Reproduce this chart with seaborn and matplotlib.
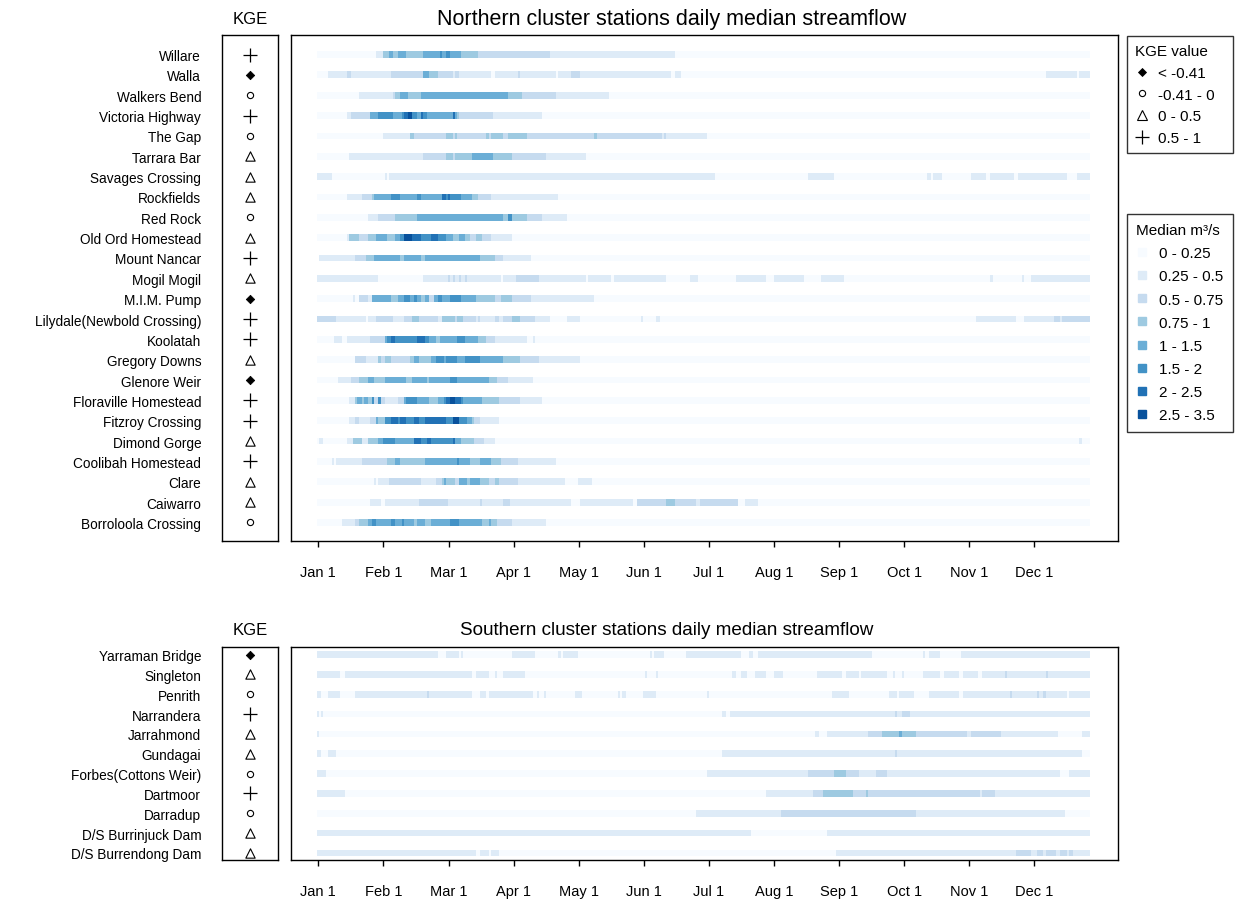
import numpy as np
import matplotlib
matplotlib.use("Agg")
import matplotlib.pyplot as plt
from matplotlib.colors import ListedColormap
from matplotlib.lines import Line2D
import seaborn as sns

# ---------------- data ----------------
N_DAYS = 365
MONTH_LABELS = ["Jan 1", "Feb 1", "Mar 1", "Apr 1", "May 1", "Jun 1",
                "Jul 1", "Aug 1", "Sep 1", "Oct 1", "Nov 1", "Dec 1"]
FLOW_BINS = ["0 - 0.25", "0.25 - 0.5", "0.5 - 0.75", "0.75 - 1",
             "1 - 1.5", "1.5 - 2", "2 - 2.5", "2.5 - 3.5"]
FLOW_COLORS = ["#f7fbff", "#deebf7", "#c6dbef", "#9ecae1",
               "#6baed6", "#4292c6", "#2171b5", "#08519c"]
KGE_BINS = ["< -0.41", "-0.41 - 0", "0 - 0.5", "0.5 - 1"]

NORTH_STATIONS = ["Willare", "Walla", "Walkers Bend", "Victoria Highway", "The Gap",
                  "Tarrara Bar", "Savages Crossing", "Rockfields", "Red Rock",
                  "Old Ord Homestead", "Mount Nancar", "Mogil Mogil", "M.I.M. Pump",
                  "Lilydale(Newbold Crossing)", "Koolatah", "Gregory Downs",
                  "Glenore Weir", "Floraville Homestead", "Fitzroy Crossing",
                  "Dimond Gorge", "Coolibah Homestead", "Clare", "Caiwarro",
                  "Borroloola Crossing"]
NORTH_KGE = ["0.5 - 1", "< -0.41", "-0.41 - 0", "0.5 - 1", "-0.41 - 0",
             "0 - 0.5", "0 - 0.5", "0 - 0.5", "-0.41 - 0", "0 - 0.5",
             "0.5 - 1", "0 - 0.5", "< -0.41", "0.5 - 1", "0.5 - 1",
             "0 - 0.5", "< -0.41", "0.5 - 1", "0.5 - 1", "0 - 0.5",
             "0.5 - 1", "0 - 0.5", "0 - 0.5", "-0.41 - 0"]

SOUTH_STATIONS = ["Yarraman Bridge", "Singleton", "Penrith", "Narrandera", "Jarrahmond",
                  "Gundagai", "Forbes(Cottons Weir)", "Dartmoor", "Darradup",
                  "D/S Burrinjuck Dam", "D/S Burrendong Dam"]
SOUTH_KGE = ["< -0.41", "0 - 0.5", "-0.41 - 0", "0.5 - 1", "0 - 0.5", "0 - 0.5",
             "-0.41 - 0", "0.5 - 1", "-0.41 - 0", "0 - 0.5", "0 - 0.5"]

# daily median flow class per station, run-length coded as (first day of run, class index);
# None = no data for that run
WILLARE = [(0, 0), (28, 1), (31, 3), (34, 4), (36, 3), (38, 4), (42, 3), (50, 4), (58, 5),
           (59, 4), (61, 5), (63, 4), (68, 3), (76, 2), (110, 1), (169, 0)]
WALLA = [(0, 0), (5, 1), (14, 2), (16, 1), (35, 2), (50, 4), (53, 3), (57, 2), (64, 1),
         (65, 2), (67, 1), (82, 0), (84, 1), (95, 2), (96, 1), (113, 0), (114, 1), (120, 2),
         (124, 1), (167, 0), (169, 1), (172, 0), (344, 1), (359, 0), (360, 1)]
WALKERS_BEND = [(0, 0), (20, 1), (36, 2), (37, 3), (39, 4), (43, 3), (49, 4), (90, 3),
                (97, 2), (113, 1), (138, 0)]
VICTORIA_HIGHWAY = [(0, 0), (14, 1), (16, 2), (25, 4), (29, 5), (36, 4), (40, 5), (41, 6),
                    (43, 7), (45, 5), (47, 4), (49, 6), (50, 5), (52, 4), (64, 6), (65, 4),
                    (66, 3), (67, 2), (83, 1), (106, 0)]
THE_GAP = [(0, 0), (31, 1), (44, 3), (46, 2), (61, 3), (64, 2), (65, 3), (66, 2), (80, 3),
           (81, 2), (82, 3), (88, 2), (90, 3), (99, 2), (131, 3), (132, 2), (163, 1),
           (164, 2), (165, 1), (184, 0)]
TARRARA_BAR = [(0, 0), (15, 1), (50, 2), (61, 3), (64, 2), (65, 3), (73, 4), (83, 3),
               (92, 2), (108, 1), (127, 0)]
SAVAGES_CROSSING = [(0, 1), (7, 0), (32, 1), (33, 0), (34, 1), (188, 0), (232, 1), (244, 0),
                    (288, 1), (290, 0), (291, 1), (295, 0), (309, 1), (316, 0), (318, 1),
                    (329, 0), (331, 1), (354, 0), (359, 1)]
ROCKFIELDS = [(0, 0), (14, 1), (21, 2), (26, 3), (27, 4), (35, 5), (39, 4), (47, 5), (49, 4),
              (59, 6), (61, 5), (62, 6), (63, 5), (68, 4), (73, 3), (76, 2), (82, 1), (114, 0)]
RED_ROCK = [(0, 0), (24, 1), (29, 2), (37, 3), (47, 4), (88, 3), (90, 5), (92, 3), (99, 2),
            (106, 1), (118, 0)]
OLD_ORD = [(0, 0), (14, 1), (15, 3), (20, 2), (24, 3), (28, 4), (33, 3), (37, 4), (39, 5),
           (41, 7), (45, 6), (49, 5), (54, 6), (57, 5), (61, 4), (64, 3), (67, 4), (70, 3),
           (72, 2), (75, 3), (78, 2), (82, 1), (92, 0)]
MOUNT_NANCAR = [(0, None), (1, 1), (18, 2), (23, 3), (27, 4), (39, 3), (41, 4), (49, 3),
                (51, 4), (77, 3), (84, 2), (88, 1), (101, 0)]
MOGIL_MOGIL = [(0, 1), (29, 0), (50, 1), (62, 2), (63, 1), (64, 2), (65, 1), (67, 2), (68, 1),
               (70, 2), (71, 1), (87, 0), (88, 1), (94, 2), (105, 1), (127, 0), (128, 1),
               (139, 0), (140, 1), (165, 0), (176, 1), (180, 0), (198, 1), (212, 0), (216, 1),
               (230, 0), (238, 1), (249, 0), (318, 1), (319, 0), (333, 1), (334, 0), (337, 1)]
MIM_PUMP = [(0, 0), (17, 1), (18, 0), (20, 2), (24, 1), (26, 4), (35, 3), (38, 4), (41, 5),
            (44, 4), (46, 5), (47, 4), (49, 3), (51, 4), (53, 2), (55, 4), (57, 5), (59, 4),
            (63, 5), (68, 4), (75, 3), (84, 2), (87, 3), (92, 2), (101, 1), (131, 0)]
LILYDALE = [(0, 2), (9, 1), (23, 0), (24, 1), (28, 2), (36, 1), (41, 2), (45, 3), (48, 2),
            (57, 1), (59, 3), (65, 2), (66, 3), (69, 2), (75, 1), (76, 2), (77, 1), (84, 2),
            (86, 1), (88, 2), (92, 3), (96, 2), (103, 1), (110, 0), (118, 1), (124, 0),
            (153, 1), (154, 0), (160, 1), (162, 0), (311, 1), (330, 0), (334, 1), (348, 2),
            (351, 1), (352, 2)]
KOOLATAH = [(0, 0), (8, 1), (12, 0), (14, 1), (25, 2), (32, 4), (33, 5), (35, 6), (37, 5),
            (47, 6), (51, 5), (53, 4), (56, 3), (58, 4), (66, 5), (70, 4), (76, 3), (80, 2),
            (84, 1), (99, 0), (102, 1), (103, 0)]
GREGORY_DOWNS = [(0, 0), (18, 2), (23, 1), (29, 3), (30, 2), (32, 3), (35, 2), (44, 3),
                 (46, 4), (48, 3), (54, 4), (56, 5), (60, 4), (61, 5), (66, 4), (70, 5),
                 (77, 4), (88, 3), (96, 2), (105, 1), (124, 0)]
GLENORE_WEIR = [(0, 0), (10, 1), (16, 2), (20, 3), (24, 4), (27, 3), (32, 4), (42, 3),
                (45, 4), (52, 3), (53, 4), (63, 5), (66, 4), (81, 3), (85, 2), (90, 1), (102, 0)]
FLORAVILLE = [(0, 0), (15, 1), (18, 3), (19, 4), (21, 3), (22, 4), (24, 3), (26, 5), (27, 2),
              (29, 5), (30, 2), (32, 1), (38, 2), (41, 4), (42, 5), (47, 4), (53, 3), (57, 4),
              (60, 5), (61, 6), (63, 7), (65, 6), (68, 5), (69, 4), (78, 3), (86, 2), (96, 1),
              (106, 0)]
FITZROY_CROSSING = [(0, 0), (15, 1), (18, 2), (20, 1), (25, 2), (28, 4), (29, 3), (32, 5),
                    (35, 6), (38, 5), (39, 6), (42, 5), (46, 6), (48, 5), (51, 6), (61, 5),
                    (64, 7), (67, 5), (71, 4), (73, 3), (74, 2), (77, 1), (86, 0)]
DIMOND_GORGE = [(0, 0), (1, 1), (3, 0), (14, 1), (17, 3), (21, 1), (24, 3), (29, 4), (31, 5),
                (37, 4), (46, 6), (49, 5), (52, 6), (54, 5), (64, 6), (65, 4), (68, 3),
                (74, 2), (79, 1), (84, 0), (360, 1), (361, 0)]
COOLIBAH = [(0, 0), (7, 1), (8, 0), (9, 1), (21, 2), (33, 3), (37, 4), (39, 3), (51, 4),
            (66, 5), (67, 4), (72, 3), (77, 4), (82, 3), (87, 2), (95, 1), (113, 0)]
CLARE = [(0, 0), (27, 1), (28, 0), (29, 1), (34, 2), (49, 1), (56, 2), (59, 3), (60, 4),
         (61, 3), (65, 2), (67, 4), (71, 3), (72, 4), (77, 3), (81, 2), (84, 3), (86, 2),
         (95, 1), (117, 0), (123, 1), (130, 0)]
CAIWARRO = [(0, 0), (25, 1), (30, 0), (32, 1), (48, 2), (62, 1), (77, 2), (78, 1), (88, 2),
            (91, 1), (120, 0), (124, 1), (149, 0), (151, 2), (165, 3), (169, 2), (179, 1),
            (181, 2), (199, 0), (202, 1), (208, 0)]
BORROLOOLA = [(0, 0), (12, 1), (18, 2), (20, 3), (24, 4), (26, 5), (28, 4), (35, 5), (37, 4),
              (40, 5), (41, 4), (46, 3), (47, 4), (51, 3), (54, 4), (63, 5), (67, 4), (78, 3),
              (81, 4), (82, 3), (85, 2), (92, 1), (108, 0)]

YARRAMAN = [(0, 1), (57, 0), (61, 1), (67, 0), (68, 1), (69, 0), (92, 1), (103, 0), (114, 1),
            (115, 0), (116, 1), (123, 0), (157, 1), (158, 0), (159, 1), (164, 0), (174, 1),
            (200, 0), (204, 1), (206, 0), (208, 1), (262, 0), (286, 1), (287, 0), (289, 1),
            (294, 0), (304, 1)]
SINGLETON = [(0, 1), (11, 0), (13, 1), (73, 0), (75, 1), (81, 0), (84, 1), (85, 0), (88, 1),
             (98, 0), (155, 1), (156, 0), (160, 1), (161, 0), (196, 1), (198, 0), (200, 1),
             (203, 0), (207, 1), (212, 0), (216, 1), (220, 0), (236, 1), (248, 0), (250, 1),
             (256, 0), (257, 1), (269, 0), (272, 1), (273, 0), (276, 1), (277, 0), (286, 1),
             (294, 0), (296, 1), (303, 0), (305, 1), (312, 0), (314, 1), (325, 2), (326, 1),
             (344, 2), (345, 1)]
PENRITH = [(0, 1), (2, 0), (5, 1), (11, 0), (18, 1), (52, 2), (53, 1), (73, 0), (77, 1),
           (80, 0), (81, 1), (102, 0), (104, 1), (105, 0), (107, 1), (108, 0), (122, 1),
           (125, 0), (142, 1), (143, 0), (144, 1), (146, 0), (154, 1), (160, 0), (184, 1),
           (185, 0), (243, 1), (251, 0), (270, 1), (274, 0), (275, 1), (282, 0), (289, 1),
           (303, 0), (305, 1), (327, 2), (328, 1), (340, 2), (341, 1), (343, 2), (344, 1),
           (354, 0), (355, 1)]
NARRANDERA = [(0, 1), (1, 0), (2, 1), (3, 0), (191, 1), (193, 0), (195, 1), (273, 2),
              (274, 1), (276, 2), (280, 1)]
JARRAHMOND = [(0, 1), (1, 0), (235, 1), (237, 0), (241, 1), (260, 2), (267, 3), (275, 4),
              (276, 3), (283, 2), (307, 1), (309, 2), (323, 1), (350, 0), (361, 1)]
GUNDAGAI = [(0, 1), (2, 0), (5, 1), (9, 0), (191, 1), (273, 2), (274, 1), (361, 0)]
FORBES = [(0, 1), (4, 0), (184, 1), (232, 2), (244, 3), (250, 2), (256, 1), (264, 2),
          (269, 1), (351, 0), (355, 1)]
DARTMOOR = [(0, 1), (13, 0), (212, 1), (234, 2), (239, 3), (253, 2), (259, 3), (260, 2),
            (313, 1), (314, 2), (320, 1)]
DARRADUP = [(0, 0), (179, 1), (219, 2), (283, 1), (353, 0)]
BURRINJUCK = [(0, 1), (205, 0), (241, 1)]
BURRENDONG = [(0, 1), (75, 0), (77, 1), (81, 0), (82, 1), (86, 0), (245, 1), (330, 2),
              (337, 1), (340, 2), (343, 1), (344, 2), (349, 1), (351, 2), (354, 1), (355, 2),
              (357, 1)]

NORTH_RUNS = [WILLARE, WALLA, WALKERS_BEND, VICTORIA_HIGHWAY, THE_GAP, TARRARA_BAR,
              SAVAGES_CROSSING, ROCKFIELDS, RED_ROCK, OLD_ORD, MOUNT_NANCAR, MOGIL_MOGIL,
              MIM_PUMP, LILYDALE, KOOLATAH, GREGORY_DOWNS, GLENORE_WEIR, FLORAVILLE,
              FITZROY_CROSSING, DIMOND_GORGE, COOLIBAH, CLARE, CAIWARRO, BORROLOOLA]
SOUTH_RUNS = [YARRAMAN, SINGLETON, PENRITH, NARRANDERA, JARRAHMOND, GUNDAGAI, FORBES,
              DARTMOOR, DARRADUP, BURRINJUCK, BURRENDONG]

# ---------------- style ----------------
sns.set_theme(style="white")
plt.rcParams["font.family"] = ["Liberation Sans", "DejaVu Sans"]
plt.rcParams["text.color"] = "black"

W, H = 1235, 904
fig = plt.figure(figsize=(W / 100, H / 100), dpi=100)
cmap = ListedColormap(FLOW_COLORS)

KGE_MARKERS = {
    "< -0.41": dict(marker="D", s=18, fc="black", ec="black", lw=0.6),
    "-0.41 - 0": dict(marker="o", s=20, fc="white", ec="black", lw=0.8),
    "0 - 0.5": dict(marker="^", s=45, fc="white", ec="black", lw=0.8),
    "0.5 - 1": dict(marker="+", s=100, c="black", lw=0.9),
}


def expand(runs):
    row = np.full(N_DAYS, np.nan)
    for k, (start, lvl) in enumerate(runs):
        end = runs[k + 1][0] if k + 1 < len(runs) else N_DAYS
        if lvl is not None:
            row[start:end] = lvl
    return row


def px_rect(x0, y0, x1, y1):
    return [x0 / W, 1 - y1 / H, (x1 - x0) / W, (y1 - y0) / H]


def draw_panel(stations, kge, runs, top, bottom, pad_top, pad_bot, title, title_x, title_fs):
    n = len(stations)
    ax_k = fig.add_axes(px_rect(222, top, 278, bottom))
    ax_h = fig.add_axes(px_rect(291, top, 1117.5, bottom))

    # heat strips: one data row between blank rows per station
    mat = np.full((3 * n, N_DAYS), np.nan)
    for i, r in enumerate(runs):
        mat[3 * i + 1] = expand(r)
    sns.heatmap(mat, ax=ax_h, cmap=cmap, vmin=-0.5, vmax=7.5, cbar=False,
                xticklabels=False, yticklabels=False)
    ax_h.set_xlim(-12.3, N_DAYS + 13.0)
    ax_h.set_ylim(3 * (n - 1) + 1.5 + 3 * pad_bot, 1.5 - 3 * pad_top)
    ax_h.set_xticks(0.6 + np.arange(12) * 30.74)
    ax_h.set_xticklabels(MONTH_LABELS)
    ax_h.set_yticks([])
    ax_h.tick_params(axis="x", bottom=True, length=4, width=1, pad=13,
                     labelsize=10.5, color="black", labelcolor="black")

    # KGE symbols
    yk = np.arange(n)
    for cat, kw in KGE_MARKERS.items():
        idx = [i for i in range(n) if kge[i] == cat]
        if idx:
            sns.scatterplot(x=np.zeros(len(idx)), y=yk[idx], ax=ax_k, legend=False, **kw)
    ax_k.set_xlim(-1, 1)
    ax_k.set_ylim(n - 1 + pad_bot, -pad_top)
    ax_k.set_xticks([])
    ax_k.set_yticks(yk)
    ax_k.set_yticklabels(stations)
    ax_k.set_xlabel("")
    ax_k.set_ylabel("")
    ax_k.tick_params(axis="y", left=False, length=0, pad=15, labelsize=9.8,
                     labelcolor="black")

    for a in (ax_k, ax_h):
        for s in a.spines.values():
            s.set_visible(True)
            s.set_color("black")
            s.set_linewidth(1.0)

    fig.text(250 / W, 1 - (top - 17) / H, "KGE", ha="center", va="center", fontsize=12)
    fig.text(title_x / W, 1 - (top - 17) / H, title, ha="center", va="center",
             fontsize=title_fs)


draw_panel(NORTH_STATIONS, NORTH_KGE, NORTH_RUNS, 36, 542, 0.96, 0.91,
           "Northern cluster stations daily median streamflow", 672, 15.5)
draw_panel(SOUTH_STATIONS, SOUTH_KGE, SOUTH_RUNS, 648, 861, 0.38, 0.36,
           "Southern cluster stations daily median streamflow", 667, 13.6)

# legends
kge_handles = []
for cat in KGE_BINS:
    kw = KGE_MARKERS[cat]
    ms = np.sqrt(kw["s"])
    if kw["marker"] == "+":
        h = Line2D([], [], marker="+", ls="none", color="black", markersize=ms, mew=0.9)
    else:
        h = Line2D([], [], marker=kw["marker"], ls="none", markerfacecolor=kw["fc"],
                   markeredgecolor="black", markersize=ms, mew=kw["lw"])
    kge_handles.append(h)
x0, x1 = 1127 / W, 1233 / W
leg1 = fig.legend(kge_handles, KGE_BINS, title="KGE value", loc="upper left",
                  bbox_to_anchor=(x0, 1 - 37 / H - 0.1, x1 - x0, 0.1), mode="expand",
                  frameon=True, fancybox=False,
                  edgecolor="black", alignment="left", fontsize=11, title_fontsize=11,
                  handlelength=0.8, handletextpad=0.7, labelspacing=0.5, borderpad=0.55,
                  borderaxespad=0)
leg1.get_frame().set_linewidth(1.0)

flow_handles = [Line2D([], [], marker="s", ls="none", markerfacecolor=c, markeredgecolor=c,
                       markersize=6) for c in FLOW_COLORS]
leg2 = fig.legend(flow_handles, FLOW_BINS, title="Median m³/s", loc="upper left",
                  bbox_to_anchor=(x0, 1 - 215 / H - 0.1, x1 - x0, 0.1), mode="expand",
                  frameon=True, fancybox=False,
                  edgecolor="black", alignment="left", fontsize=11, title_fontsize=11,
                  handlelength=0.8, handletextpad=0.7, labelspacing=0.6, borderpad=0.6,
                  borderaxespad=0)
leg2.get_frame().set_linewidth(1.0)

fig.savefig("out.png", dpi=100, facecolor="white")
